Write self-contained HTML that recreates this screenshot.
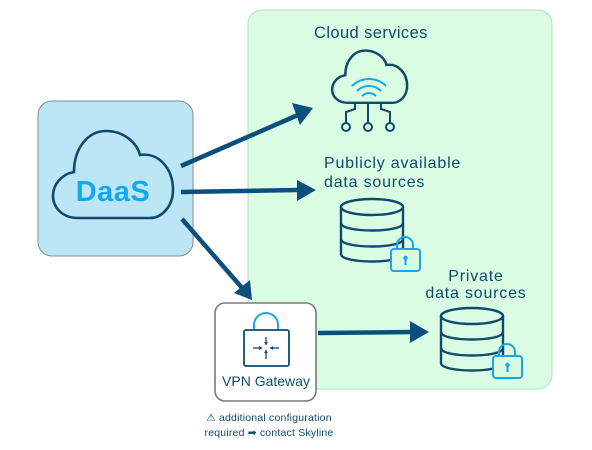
<!DOCTYPE html>
<html><head><style>
html,body{margin:0;padding:0;background:#fff;}
svg{display:block;font-family:"Liberation Sans",sans-serif;}
</style></head><body>
<svg width="592" height="450" viewBox="0 0 592 450" xmlns="http://www.w3.org/2000/svg">
<defs>
<path id="cl" d="M78,218 C62,218 53,207 53,196 C53,184 62,174 74,172 C74,148 88,131 106,131 C124,131 137,143 140,155 C158,152 173,168 173,190 C173,206 162,218 150,218 Z"/>
<g id="db" fill="none" stroke="#0d4a6e" stroke-width="2.4">
<ellipse cx="0" cy="8" rx="31" ry="8"/>
<path d="M-31,8 V55 C-31,65 31,65 31,55 V8"/>
<path d="M-31,24 C-31,34 31,34 31,24"/>
<path d="M-31,40 C-31,50 31,50 31,40"/>
</g>
<g id="lk" fill="none" stroke="#1aa6e6" stroke-width="2">
<path d="M6,13 V9 A8,8 0 0 1 22,9 V13"/>
<rect x="0" y="13" width="29" height="22" rx="3" fill="#d9fbe0"/>
<circle cx="14.5" cy="22" r="2.2" fill="#1aa6e6" stroke="none"/>
<line x1="14.5" y1="22" x2="14.5" y2="29"/>
</g>
</defs>
<rect x="248" y="10" width="304" height="379" rx="14" fill="#dafce2" stroke="#a9e6be" stroke-width="1"/>
<rect x="38" y="101" width="155" height="155" rx="14" fill="#bce6f6" stroke="#8a8a8a" stroke-width="1"/>
<use href="#cl" fill="none" stroke="#0d4a6e" stroke-width="2.6"/>
<text x="113" y="201" text-anchor="middle" font-size="29" font-weight="bold" fill="#14a9ee" letter-spacing="0.5">DaaS</text>

<g stroke="#0b4f7c" stroke-width="4.5" fill="#0b4f7c">
<line x1="181" y1="166" x2="298" y2="115"/>
<polygon points="313,108 292,103 300,125" stroke="none"/>
<line x1="181" y1="192" x2="298" y2="190"/>
<polygon points="316,190 297,180 297,201" stroke="none"/>
<line x1="182" y1="219" x2="243" y2="289"/>
<polygon points="252,300 250,280 234,293" stroke="none"/>
<line x1="318" y1="333" x2="412" y2="332"/>
<polygon points="429,332 410,321 410,343" stroke="none"/>
</g>

<text x="314" y="38" font-size="16.5" fill="#0d4a6e" letter-spacing="0.4">Cloud services</text>
<g transform="translate(299,-28) scale(0.625 0.6)"><use href="#cl" fill="none" stroke="#0d4a6e" stroke-width="4"/></g>
<g fill="none" stroke="#1aa6e6" stroke-width="2">
<path d="M362,96 A10,10 0 0 1 376,96"/>
<path d="M357,91 A17,17 0 0 1 381,91"/>
<path d="M352,86 A24,24 0 0 1 386,86"/>
</g>
<g fill="none" stroke="#0d4a6e" stroke-width="2">
<line x1="368" y1="103" x2="368" y2="123"/>
<circle cx="368" cy="127" r="4"/>
<path d="M355,103 V109 L346,112 V123"/>
<circle cx="346" cy="127" r="4"/>
<path d="M381,103 V109 L390,112 V123"/>
<circle cx="390" cy="127" r="4"/>
</g>

<text x="324" y="168" font-size="16" fill="#0d4a6e" letter-spacing="0.8">Publicly available</text>
<text x="324" y="187" font-size="16" fill="#0d4a6e" letter-spacing="0.8">data sources</text>
<use href="#db" x="372" y="199"/>
<use href="#lk" x="391" y="236"/>

<text x="476" y="281" font-size="16" fill="#0d4a6e" text-anchor="middle" letter-spacing="0.8">Private</text>
<text x="476" y="298" font-size="16" fill="#0d4a6e" text-anchor="middle" letter-spacing="0.8">data sources</text>
<use href="#db" x="472" y="308"/>
<use href="#lk" x="493" y="343"/>

<rect x="215" y="303" width="101" height="98" rx="10" fill="#fff" stroke="#7a7a7a" stroke-width="1.6"/>
<path d="M254,330 V325 A12,12 0 0 1 278,325 V330" fill="none" stroke="#1aa6e6" stroke-width="2"/>
<rect x="244" y="330" width="45" height="36" rx="2" fill="none" stroke="#0d4a6e" stroke-width="1.8"/>
<g stroke="#0d4a6e" stroke-width="1.3" fill="#0d4a6e">
<line x1="266" y1="337" x2="266" y2="345"/><line x1="266" y1="350" x2="266" y2="359"/>
<line x1="253" y1="348" x2="262" y2="348"/><line x1="270" y1="348" x2="279" y2="348"/>
<polygon points="262,348 259,346 259,350" stroke="none"/>
<polygon points="270,348 273,346 273,350" stroke="none"/>
<polygon points="266,345 264,342 268,342" stroke="none"/>
<polygon points="266,350 264,353 268,353" stroke="none"/>
</g>
<text x="266" y="386" font-size="14" fill="#0d4a6e" text-anchor="middle">VPN Gateway</text>
<text x="269" y="421" font-size="10.5" fill="#0d4a6e" text-anchor="middle" letter-spacing="0.2">⚠ additional configuration</text>
<text x="269" y="436" font-size="10.5" fill="#0d4a6e" text-anchor="middle" letter-spacing="0.2">required ➡ contact Skyline</text>
</svg>
</body></html>
